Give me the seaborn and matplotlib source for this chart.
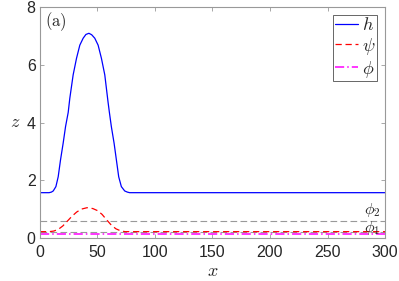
import numpy as np
import pandas as pd
import seaborn as sns
import matplotlib.pyplot as plt

# values
h_x = [0, 8, 10, 11.6, 13.9, 15.9, 17.9, 20.2, 22.3, 24.6, 26.0, 28.9, 31.8, 34.7,
       37.6, 40, 42.6, 45, 47.7, 50.6, 53.5, 56.4, 59.2, 60.4, 62.1, 64.5, 66.5,
       68.5, 70.8, 73.7, 76, 78, 300]
h_z = [1.57, 1.57, 1.59, 1.63, 1.78, 2.12, 2.70, 3.28, 3.86, 4.35, 4.84, 5.65, 6.22,
       6.68, 6.92, 7.05, 7.09, 7.04, 6.92, 6.68, 6.22, 5.65, 4.72, 4.35, 3.86, 3.28,
       2.70, 2.12, 1.78, 1.63, 1.59, 1.57, 1.57]

psi_x = [0, 8, 12, 16, 20, 24, 28, 32, 36, 41, 46, 50, 54, 58, 62, 66, 70, 74, 80, 300]
psi_z = [0.22, 0.22, 0.24, 0.30, 0.42, 0.59, 0.76, 0.90, 1.00, 1.05, 1.02, 0.95,
         0.82, 0.63, 0.45, 0.32, 0.25, 0.22, 0.22, 0.22]

phi_x = [0, 300]
phi_z = [0.13, 0.13]

phi1 = 0.22
phi2 = 0.59

sns.set_style("ticks")
plt.rcParams["mathtext.fontset"] = "cm"
plt.rcParams["font.family"] = ["Liberation Sans", "DejaVu Sans"]

fig = plt.figure(figsize=(3.99, 2.81), dpi=100)
ax = fig.add_axes([0.1, 0.153, 0.865, 0.822])

# reference levels phi_1, phi_2
ax.axhline(phi2, color="0.6", ls=(0, (6, 3)), lw=0.8)
ax.axhline(phi1, color="0.6", ls=(0, (6, 3)), lw=0.8)

sns.lineplot(x=h_x, y=h_z, ax=ax, color="#0000ff", lw=0.9, label=r"$h$")
sns.lineplot(x=psi_x, y=psi_z, ax=ax, color="#ff0000", lw=0.9,
             label=r"$\psi$", linestyle=(0, (5, 3)))
sns.lineplot(x=phi_x, y=phi_z, ax=ax, color="#ff00ff", lw=1.1,
             label=r"$\phi$", linestyle=(0, (6, 2, 1, 2)))

ax.text(282, 0.97, r"$\phi_2$", fontsize=11.5, va="center")
ax.text(282, 0.36, r"$\phi_1$", fontsize=11.5, va="center")
ax.text(4, 7.5, r"$\mathrm{(a)}$", fontsize=12, va="center")

ax.set_xlim(0, 300)
ax.set_ylim(0, 8)
ax.set_xticks(range(0, 301, 50))
ax.set_yticks([0, 2, 4, 6, 8])
ax.tick_params(direction="in", top=True, right=True, length=3, width=0.6,
               labelsize=11.5, colors="0.6", labelcolor="#262626")
ax.tick_params(axis="x", pad=5)
ax.tick_params(axis="y", pad=3)
for s in ax.spines.values():
    s.set_color("0.6")
    s.set_linewidth(0.8)

ax.set_xlabel(r"$x$", fontsize=13, labelpad=2)
ax.set_ylabel(r"$z$", fontsize=13, rotation=0, labelpad=8, va="center")

leg = ax.legend(loc="upper right", fontsize=13, handlelength=1.3,
                fancybox=False, framealpha=1, edgecolor="0.3",
                borderaxespad=0.45, labelspacing=0.1, handletextpad=0.2,
                borderpad=0.1)
leg.get_frame().set_linewidth(0.6)

fig.savefig("out.png", dpi=100)
